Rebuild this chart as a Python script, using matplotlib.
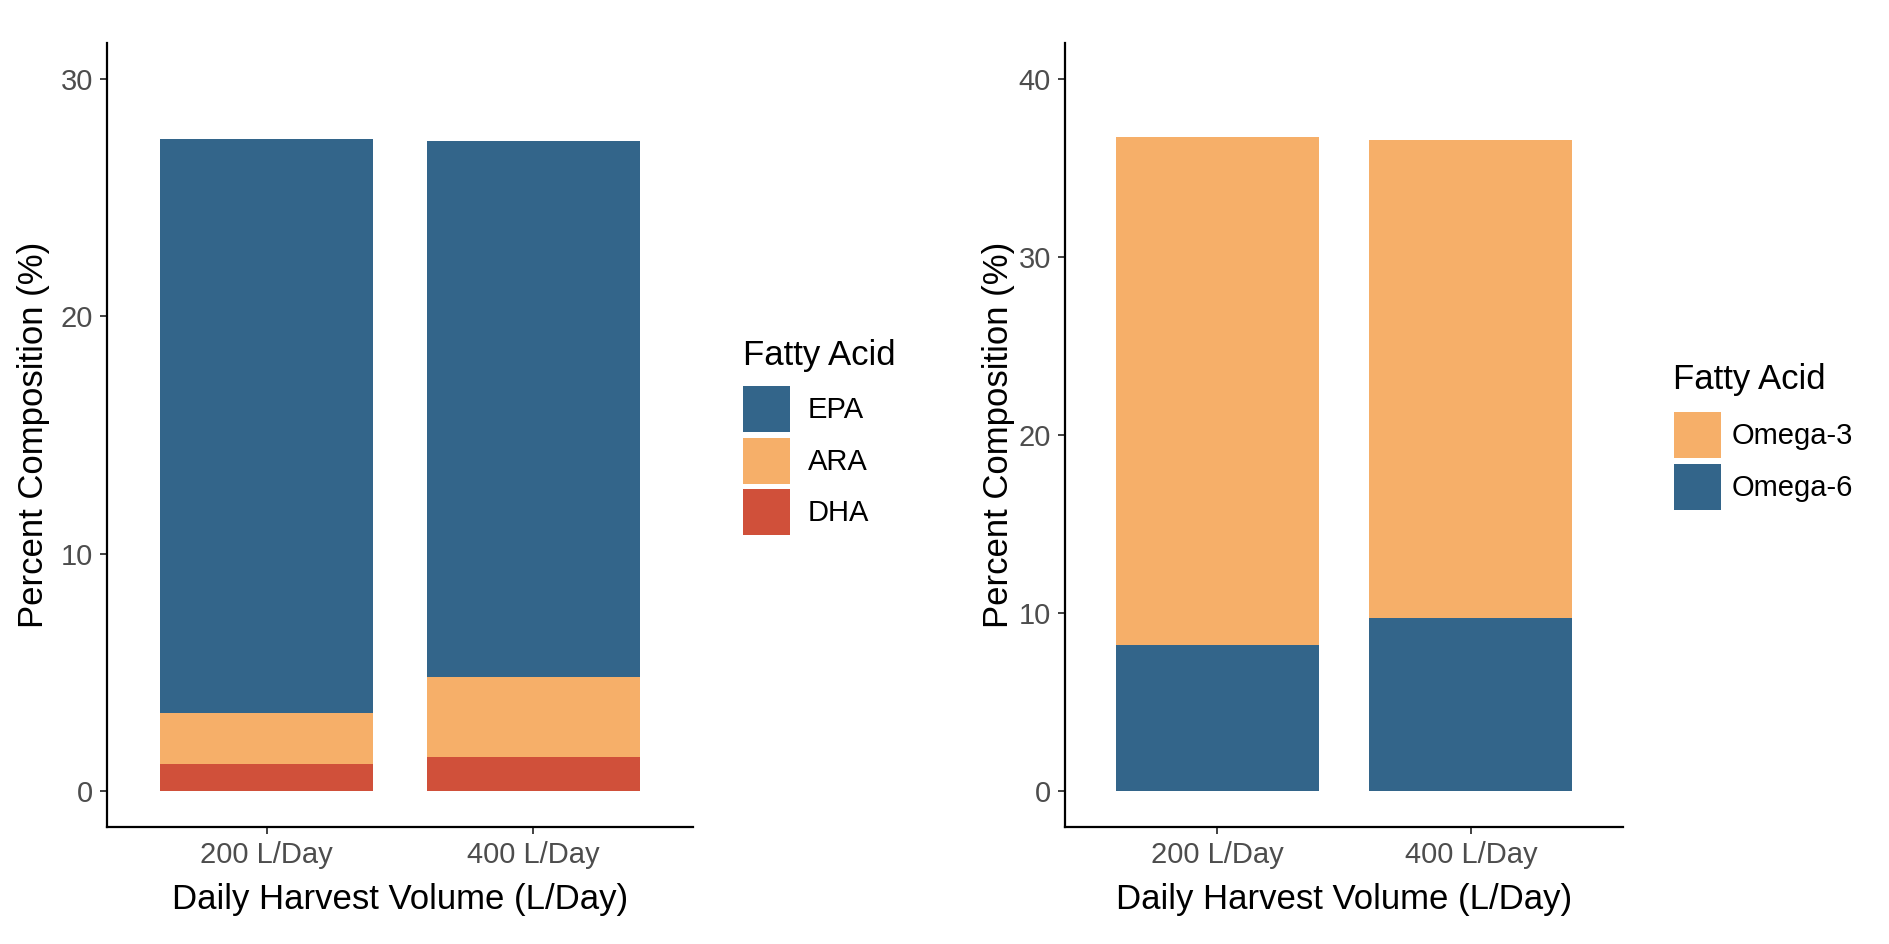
import matplotlib
matplotlib.use("Agg")
import matplotlib.pyplot as plt
import numpy as np
from matplotlib.patches import Patch

plt.rcParams["font.family"] = ["Liberation Sans", "DejaVu Sans"]

volumes = ["200 L/Day", "400 L/Day"]

# left panel: individual fatty acids (stack order bottom -> top: DHA, ARA, EPA)
dha = [1.14, 1.45]
ara = [2.16, 3.37]
epa = [24.17, 22.54]

# right panel: omega groups (bottom -> top: Omega-6, Omega-3)
omega6 = [8.22, 9.74]
omega3 = [28.53, 26.81]

BLUE = "#33658A"
ORANGE = "#F6AF69"
RED = "#D0503A"

W, H = 1890, 944
fig = plt.figure(figsize=(W / 100, H / 100), dpi=100)

ax1 = fig.add_axes([107 / W, 1 - 827 / H, (693 - 107) / W, (827 - 43) / H])
ax2 = fig.add_axes([1065 / W, 1 - 827 / H, (1623 - 1065) / W, (827 - 43) / H])

x = np.arange(1, len(volumes) + 1)
bw = 0.8

# left stacked bars
ax1.bar(x, dha, bw, color=RED, linewidth=0)
ax1.bar(x, ara, bw, bottom=dha, color=ORANGE, linewidth=0)
ax1.bar(x, epa, bw, bottom=np.add(dha, ara), color=BLUE, linewidth=0)
ax1.set_ylim(-1.5, 31.5)
ax1.set_yticks([0, 10, 20, 30])

# right stacked bars
ax2.bar(x, omega6, bw, color=BLUE, linewidth=0)
ax2.bar(x, omega3, bw, bottom=omega6, color=ORANGE, linewidth=0)
ax2.set_ylim(-2, 42)
ax2.set_yticks([0, 10, 20, 30, 40])

for ax, lp in ((ax1, 8), (ax2, 3)):
    ax.set_xlim(0.4, 2.6)
    ax.set_xticks(x)
    ax.set_xticklabels(volumes)
    for s in ("top", "right"):
        ax.spines[s].set_visible(False)
    for s in ("left", "bottom"):
        ax.spines[s].set_linewidth(1.6)
        ax.spines[s].set_color("black")
    ax.tick_params(axis="both", length=5, width=1.3, color="#333333",
                   labelsize=21, labelcolor="#4D4D4D", pad=5)
    ax.set_xlabel("Daily Harvest Volume (L/Day)", fontsize=25, labelpad=10)
    ax.set_ylabel("Percent Composition (%)", fontsize=25, labelpad=lp)

# legends
fs = 21
leg_kw = dict(loc="upper left", frameon=False, fontsize=fs, borderpad=0,
              borderaxespad=0, handlelength=47 / (fs * 100 / 72),
              handleheight=2.05, labelspacing=0.19)

h1 = [Patch(facecolor=BLUE, edgecolor="none"),
      Patch(facecolor=ORANGE, edgecolor="none"),
      Patch(facecolor=RED, edgecolor="none")]
fig.legend(h1, ["EPA", "ARA", "DHA"], handletextpad=0.6,
           bbox_to_anchor=(743 / W, 1 - 386 / H), **leg_kw)
fig.text(743 / W, 1 - 365 / H, "Fatty Acid", fontsize=25, va="baseline", ha="left")

h2 = [Patch(facecolor=ORANGE, edgecolor="none"),
      Patch(facecolor=BLUE, edgecolor="none")]
fig.legend(h2, ["Omega-3", "Omega-6"], handletextpad=0.35,
           bbox_to_anchor=(1674 / W, 1 - 412 / H), **leg_kw)
fig.text(1673 / W, 1 - 389 / H, "Fatty Acid", fontsize=25, va="baseline", ha="left")

fig.savefig("out.png", dpi=100, facecolor="white")
